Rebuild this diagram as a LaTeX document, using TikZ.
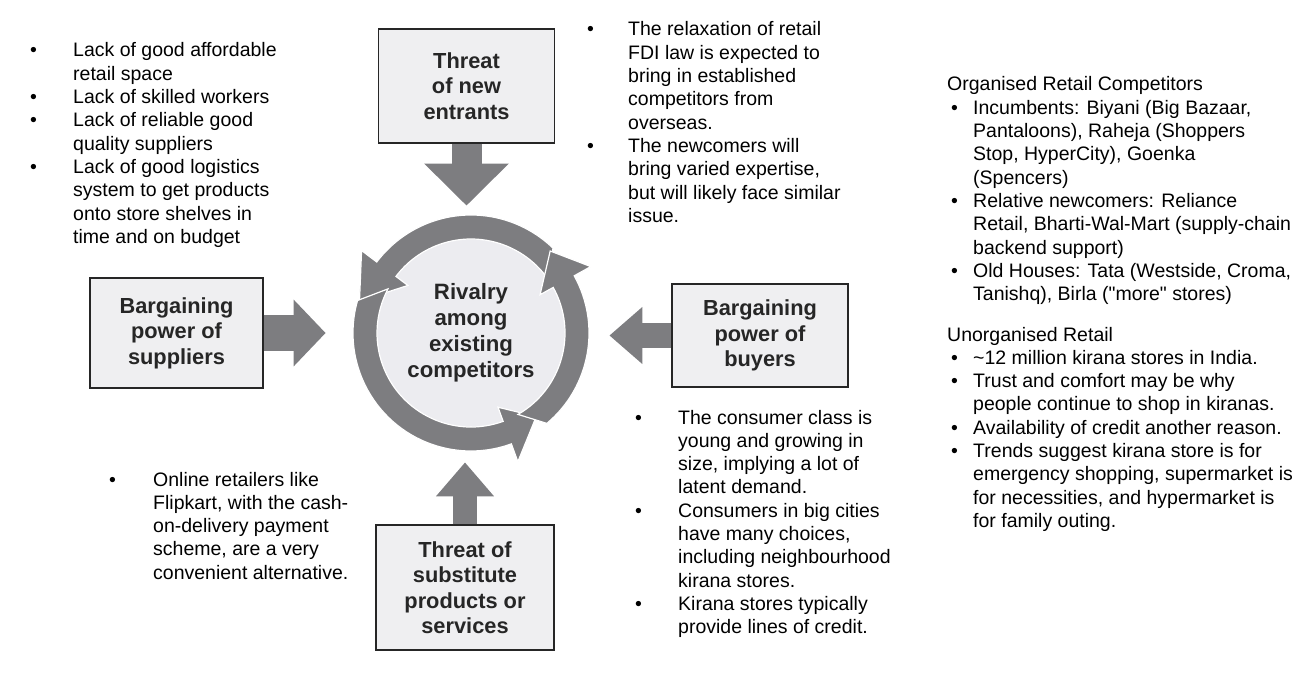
\documentclass[tikz,border=0pt]{standalone}
\usepackage{fontspec}
\setmainfont{Liberation Sans}[Ligatures=TeXOff]
\usetikzlibrary{arrows.meta}

\definecolor{ringgray}{RGB}{125,125,128}
\definecolor{boxfill}{RGB}{239,239,241}
\definecolor{hubfill}{RGB}{236,236,240}

\begin{document}
\begin{tikzpicture}[
  x=1pt, y=1pt,
  force/.style={draw=black!85, line width=1.2pt, fill=boxfill, minimum width=176pt,
                align=center, inner sep=0pt, text=black!85,
                font=\bfseries\fontsize{21.8}{25.5}\selectfont},
  hub/.style={circle, fill=hubfill, minimum size=190pt, align=center, inner sep=0pt,
              text=black!85, font=\bfseries\fontsize{22.2}{26}\selectfont},
  push/.style={draw=ringgray},
  ring/.style={fill=ringgray, draw=white, line width=1.2pt},
  note/.style={inner sep=0pt, anchor=base west, font=\fontsize{19.5}{23.3}\selectfont}
]
  \useasboundingbox (0,0) rectangle (1314,-690);

  \node[force, minimum height=114pt] (entry) at (466.5,-86) {Threat\\of new\\entrants};
  \node[force, minimum width=173pt, minimum height=110pt] (supp) at (176.5,-333)
    {Bargaining\\power of\\suppliers};
  \node[force, minimum height=103pt] (buy) at (760,-335.5) {Bargaining\\power of\\buyers};
  \node[force, minimum width=178pt, minimum height=125pt] (subst) at (465,-587.5)
    {Threat of\\substitute\\products or\\services};

  \node[hub] (rival) at (471,-333) {Rivalry\\among\\existing\\competitors};

  \begin{scope}[shift={(rival.center)}]
    \foreach \si/\so/\b/\t/\r in {34/46/143/164/116, 152/164/290/308/106, 300/310/389/406/114}
      \path[ring] (\si:94) -- (\so:118) arc[start angle=\so, end angle=\b, radius=118pt]
        -- (\b:137) -- (\t:\r) -- (\b:79) -- (\b:94)
        arc[start angle=\b, end angle=\si, radius=94pt] -- cycle;
  \end{scope}

  \coordinate (tipN) at ([yshift=-62pt]entry.south);
  \coordinate (tipW) at ([xshift=62pt]supp.east);
  \coordinate (tipE) at ([xshift=-62pt]buy.west);
  \coordinate (tipS) at ([yshift=62pt]subst.north);

  \draw[push, line width=30pt, -{Triangle[width=82pt, length=42pt]}] (entry.south) -- (tipN);
  \draw[push, line width=36pt, -{Triangle[width=65pt, length=32pt]}] (supp.east) -- (tipW);
  \draw[push, line width=25pt, -{Triangle[width=55pt, length=33pt]}] (buy.west) -- (tipE);
  \draw[push, line width=24pt, -{Triangle[width=56pt, length=34pt]}] (subst.north) -- (tipS);

  \node[note] (suppnote) at (30,-57) {\begin{tabular}[t]{@{}p{43pt}@{}l@{}}
    \textbullet & Lack of good affordable\\
                & retail space\\
    \textbullet & Lack of skilled workers\\
    \textbullet & Lack of reliable good\\
                & quality suppliers\\
    \textbullet & Lack of good logistics\\
                & system to get products\\
                & onto store shelves in\\
                & time and on budget
  \end{tabular}};

  \node[note] (entrynote) at (587,-36) {\begin{tabular}[t]{@{}p{41pt}@{}l@{}}
    \textbullet & The relaxation of retail\\
                & FDI law is expected to\\
                & bring in established\\
                & competitors from\\
                & overseas.\\
    \textbullet & The newcomers will\\
                & bring varied expertise,\\
                & but will likely face similar\\
                & issue.
  \end{tabular}};

  \node[note] (substnote) at (109,-486) {\begin{tabular}[t]{@{}p{44pt}@{}l@{}}
    \textbullet & Online retailers like\\
                & Flipkart, with the cash-\\
                & on-delivery payment\\
                & scheme, are a very\\
                & convenient alternative.
  \end{tabular}};

  \node[note] (buynote) at (635,-424) {\begin{tabular}[t]{@{}p{43pt}@{}l@{}}
    \textbullet & The consumer class is\\
                & young and growing in\\
                & size, implying a lot of\\
                & latent demand.\\
    \textbullet & Consumers in big cities\\
                & have many choices,\\
                & including neighbourhood\\
                & kirana stores.\\
    \textbullet & Kirana stores typically\\
                & provide lines of credit.
  \end{tabular}};

  \node[note] (orgnote) at (947,-91) {\begin{tabular}[t]{@{}p{26pt}@{}l@{}}
    \multicolumn{2}{@{}l@{}}{Organised Retail Competitors}\\
    \hspace*{4pt}\textbullet & Incumbents: Biyani (Big Bazaar,\\
                & Pantaloons), Raheja (Shoppers\\
                & Stop, HyperCity), Goenka\\
                & (Spencers)\\
    \hspace*{4pt}\textbullet & Relative newcomers: Reliance\\
                & Retail, Bharti-Wal-Mart (supply-chain\\
                & backend support)\\
    \hspace*{4pt}\textbullet & Old Houses: Tata (Westside, Croma,\\
                & Tanishq), Birla ("more" stores)
  \end{tabular}};

  \node[note] (unorgnote) at (947,-341) {\begin{tabular}[t]{@{}p{26pt}@{}l@{}}
    \multicolumn{2}{@{}l@{}}{Unorganised Retail}\\
    \hspace*{4pt}\textbullet & \textasciitilde 12 million kirana stores in India.\\
    \hspace*{4pt}\textbullet & Trust and comfort may be why\\
                & people continue to shop in kiranas.\\
    \hspace*{4pt}\textbullet & Availability of credit another reason.\\
    \hspace*{4pt}\textbullet & Trends suggest kirana store is for\\
                & emergency shopping, supermarket is\\
                & for necessities, and hypermarket is\\
                & for family outing.
  \end{tabular}};
\end{tikzpicture}
\end{document}
